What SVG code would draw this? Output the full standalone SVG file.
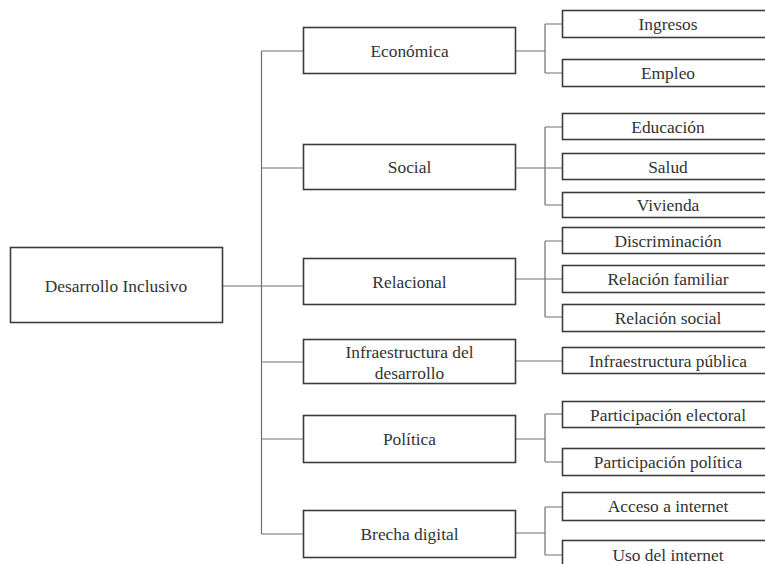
<svg xmlns="http://www.w3.org/2000/svg" width="765" height="564" viewBox="0 0 765 564">
<style>
.box{fill:#fff;stroke:#3c3c3c;stroke-width:1.6}
.t{font-family:'Liberation Serif','Times New Roman',Times,serif;font-size:17.4px;fill:#333;text-anchor:middle}
.c{fill:none;stroke:#707070;stroke-width:1.2}
</style>
<rect width="765" height="564" fill="#fff"/>
<g id="connectors">
<path class="c" d="M222,286H303M261.5,51V534M261.5,51H303M261.5,168H303M261.5,362H303M261.5,439H303M261.5,534H303"/>
<path class="c" d="M516,51H545M545,24V73M545,24H562M545,73H562"/>
<path class="c" d="M516,168H562M545,127V205M545,127H562M545,205H562"/>
<path class="c" d="M516,279H562M545,241V317M545,241H562M545,317H562"/>
<path class="c" d="M516,361H562"/>
<path class="c" d="M516,439H545M545,414V462M545,414H562M545,462H562"/>
<path class="c" d="M516,533H545M545,507V555M545,507H562M545,555H562"/>
</g>
<g font-family="Liberation Serif, serif">
<g id="root"><rect class="box" x="10.5" y="247.5" width="212" height="75"/><text class="t" x="116" y="292">Desarrollo Inclusivo</text></g>
<g id="economica"><rect class="box" x="303.5" y="27.5" width="212" height="46"/><text class="t" x="409.5" y="57">Económica</text></g>
<g id="social"><rect class="box" x="303.5" y="144.5" width="212" height="45"/><text class="t" x="409.5" y="173">Social</text></g>
<g id="relacional"><rect class="box" x="303.5" y="258.5" width="212" height="46"/><text class="t" x="409.5" y="288">Relacional</text></g>
<g id="infraestructura"><rect class="box" x="303.5" y="339.5" width="212" height="44"/><text class="t" x="409.5" y="358">Infraestructura del</text><text class="t" x="409.5" y="379">desarrollo</text></g>
<g id="politica"><rect class="box" x="303.5" y="415.5" width="212" height="47"/><text class="t" x="409.5" y="445">Política</text></g>
<g id="brecha"><rect class="box" x="303.5" y="510.5" width="212" height="47"/><text class="t" x="409.5" y="540">Brecha digital</text></g>
<g id="ingresos"><rect class="box" x="562.5" y="10.5" width="214" height="27"/><text class="t" x="668" y="30">Ingresos</text></g>
<g id="empleo"><rect class="box" x="562.5" y="59.5" width="214" height="27"/><text class="t" x="668" y="79">Empleo</text></g>
<g id="educacion"><rect class="box" x="562.5" y="113.5" width="214" height="26"/><text class="t" x="668" y="133">Educación</text></g>
<g id="salud"><rect class="box" x="562.5" y="153.5" width="214" height="26"/><text class="t" x="668" y="173">Salud</text></g>
<g id="vivienda"><rect class="box" x="562.5" y="192.5" width="214" height="25"/><text class="t" x="668" y="211">Vivienda</text></g>
<g id="discriminacion"><rect class="box" x="562.5" y="227.5" width="214" height="26"/><text class="t" x="668" y="247">Discriminación</text></g>
<g id="familiar"><rect class="box" x="562.5" y="265.5" width="214" height="27"/><text class="t" x="668" y="285">Relación familiar</text></g>
<g id="relsocial"><rect class="box" x="562.5" y="304.5" width="214" height="27"/><text class="t" x="668" y="324">Relación social</text></g>
<g id="infpublica"><rect class="box" x="562.5" y="347.5" width="214" height="26"/><text class="t" x="668" y="367">Infraestructura pública</text></g>
<g id="electoral"><rect class="box" x="562.5" y="401.5" width="214" height="26"/><text class="t" x="668" y="421">Participación electoral</text></g>
<g id="partpolitica"><rect class="box" x="562.5" y="448.5" width="214" height="27"/><text class="t" x="668" y="468">Participación política</text></g>
<g id="acceso"><rect class="box" x="562.5" y="492.5" width="214" height="28"/><text class="t" x="668" y="512">Acceso a internet</text></g>
<g id="uso"><rect class="box" x="562.5" y="540.5" width="214" height="30"/><text class="t" x="668" y="561">Uso del internet</text></g>
</g>
</svg>
